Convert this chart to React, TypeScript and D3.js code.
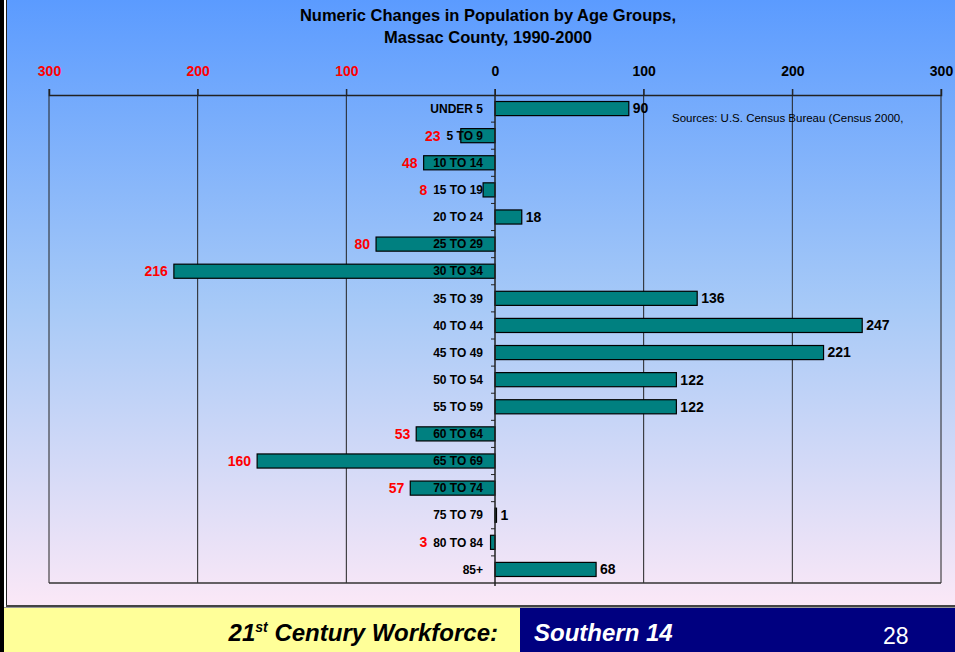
import React, { useRef, useEffect } from 'react';
import * as d3 from 'd3';

const ageGroups = [
  'UNDER 5', '5 TO 9', '10 TO 14', '15 TO 19', '20 TO 24', '25 TO 29',
  '30 TO 34', '35 TO 39', '40 TO 44', '45 TO 49', '50 TO 54', '55 TO 59',
  '60 TO 64', '65 TO 69', '70 TO 74', '75 TO 79', '80 TO 84', '85+',
];
const changes = [90, -23, -48, -8, 18, -80, -216, 136, 247, 221, 122, 122, -53, -160, -57, 1, -3, 68];
const xTicks = [-300, -200, -100, 0, 100, 200, 300];

const W = 955;
const H = 652;
const FONT = 'Arial, "Liberation Sans", sans-serif';

const App = () => {
  const ref = useRef<SVGSVGElement>(null);

  useEffect(() => {
    const svg = d3.select(ref.current);
    svg.selectAll('*').remove();

    const margin = { top: 95, right: 14, bottom: 69, left: 49 };
    const plotW = W - margin.left - margin.right;
    const plotH = H - margin.top - margin.bottom;

    // background gradient
    const defs = svg.append('defs');
    const grad = defs.append('linearGradient').attr('id', 'bg').attr('x1', 0).attr('y1', 0).attr('x2', 0).attr('y2', 1);
    grad.append('stop').attr('offset', '0%').attr('stop-color', '#5b9bff');
    grad.append('stop').attr('offset', '50%').attr('stop-color', '#a6c9f7');
    grad.append('stop').attr('offset', '100%').attr('stop-color', '#fbe8f7');
    svg.append('rect').attr('x', 0).attr('y', 0).attr('width', W).attr('height', 606).attr('fill', 'url(#bg)');

    // frame on the left and bottom of the slide
    svg.append('rect').attr('x', 0).attr('y', 0).attr('width', 4).attr('height', H).attr('fill', '#000');
    svg.append('rect').attr('x', 4).attr('y', 0).attr('width', 2).attr('height', 606).attr('fill', '#fff');
    svg.append('line').attr('x1', 6.5).attr('x2', 6.5).attr('y1', 0).attr('y2', 606).attr('stroke', '#222').attr('stroke-width', 1);

    // footer
    svg.append('rect').attr('x', 4).attr('y', 608).attr('width', 516).attr('height', 44).attr('fill', '#ffff99');
    svg.append('rect').attr('x', 520).attr('y', 608).attr('width', W - 520).attr('height', 44).attr('fill', '#000080');
    svg.append('rect').attr('x', 6).attr('y', 605).attr('width', W - 6).attr('height', 2).attr('fill', '#444');
    svg.append('rect').attr('x', 4).attr('y', 607).attr('width', W - 4).attr('height', 1).attr('fill', '#999');

    const ft = svg.append('text')
      .attr('x', 498).attr('y', 641).attr('text-anchor', 'end')
      .attr('font-family', FONT).attr('font-weight', 'bold').attr('font-style', 'italic')
      .attr('font-size', 24).attr('fill', '#000');
    ft.append('tspan').text('21');
    ft.append('tspan').attr('font-size', 14).attr('dy', -9).text('st');
    ft.append('tspan').attr('dy', 9).text(' Century Workforce:');

    svg.append('text')
      .attr('x', 534).attr('y', 641)
      .attr('font-family', FONT).attr('font-weight', 'bold').attr('font-style', 'italic')
      .attr('font-size', 24).attr('fill', '#fff').text('Southern 14');
    svg.append('text')
      .attr('x', 883).attr('y', 644)
      .attr('font-family', FONT).attr('font-size', 23).attr('fill', '#fff').text('28');

    // title
    const title = svg.append('text')
      .attr('text-anchor', 'middle').attr('font-family', FONT).attr('font-weight', 'bold')
      .attr('font-size', 16.5).attr('fill', '#000');
    title.append('tspan').attr('x', 488).attr('y', 21).text('Numeric Changes in Population by Age Groups,');
    title.append('tspan').attr('x', 488).attr('y', 43).text('Massac County, 1990-2000');

    const x = d3.scaleLinear().domain([-300, 300]).range([0, plotW]);
    const y = d3.scaleBand<string>().domain(ageGroups).range([0, plotH]).paddingInner(0.48).paddingOuter(0.24);

    const g = svg.append('g').attr('transform', `translate(${margin.left},${margin.top})`);

    // vertical gridlines + plot frame
    g.selectAll('line.grid')
      .data(xTicks.filter(d => d !== 0))
      .enter().append('line')
      .attr('class', 'grid')
      .attr('x1', d => x(d)).attr('x2', d => x(d))
      .attr('y1', -6).attr('y2', plotH)
      .attr('stroke', '#222').attr('stroke-width', 1);
    g.append('line').attr('x1', 0).attr('x2', plotW).attr('y1', plotH).attr('y2', plotH)
      .attr('stroke', '#333').attr('stroke-width', 1.5);

    // top axis
    const top = g.append('g')
      .call(d3.axisTop(x).tickValues(xTicks).tickSize(6).tickFormat(d => String(Math.abs(+d))));
    top.select('.domain').attr('stroke', '#222').attr('stroke-width', 1.5);
    top.selectAll('.tick line').attr('stroke', '#222');
    top.selectAll('.tick text')
      .attr('y', -19)
      .attr('font-family', FONT).attr('font-weight', 'bold').attr('font-size', 14)
      .attr('fill', d => (+d < 0 ? '#ff0000' : '#000'));

    // bars
    g.selectAll('rect.bar')
      .data(changes)
      .enter().append('rect')
      .attr('class', 'bar')
      .attr('x', d => x(Math.min(0, d)))
      .attr('y', (d, i) => y(ageGroups[i])!)
      .attr('width', d => Math.abs(x(d) - x(0)))
      .attr('height', y.bandwidth())
      .attr('fill', '#008080')
      .attr('stroke', '#000').attr('stroke-width', 1.2);

    // zero axis with category ticks
    const x0 = x(0);
    g.append('line').attr('x1', x0).attr('x2', x0).attr('y1', -6).attr('y2', plotH + 3)
      .attr('stroke', '#222').attr('stroke-width', 1.5);
    g.selectAll('line.cat')
      .data(d3.range(1, ageGroups.length))
      .enter().append('line')
      .attr('class', 'cat')
      .attr('x1', x0 - 4).attr('x2', x0)
      .attr('y1', i => i * y.step()).attr('y2', i => i * y.step())
      .attr('stroke', '#222');

    // category labels
    const cats = g.selectAll('text.cat')
      .data(ageGroups)
      .enter().append('text')
      .attr('class', 'cat')
      .attr('x', x0 - 12)
      .attr('y', d => y(d)! + y.bandwidth() / 2)
      .attr('dy', '0.35em')
      .attr('text-anchor', 'end')
      .attr('font-family', FONT).attr('font-weight', 'bold').attr('font-size', 12)
      .attr('fill', '#000')
      .text(d => d);

    const catLeft: number[] = [];
    cats.each(function (this: SVGTextElement) {
      catLeft.push(x0 - 12 - this.getComputedTextLength());
    });

    // value labels
    g.selectAll('text.val')
      .data(changes)
      .enter().append('text')
      .attr('class', 'val')
      .attr('x', (d, i) => (d >= 0 ? x(d) + 4 : Math.min(x(d), catLeft[i]) - 6))
      .attr('y', (d, i) => y(ageGroups[i])! + y.bandwidth() / 2)
      .attr('dy', '0.35em')
      .attr('text-anchor', d => (d >= 0 ? 'start' : 'end'))
      .attr('font-family', FONT).attr('font-weight', 'bold').attr('font-size', 14)
      .attr('fill', d => (d >= 0 ? '#000' : '#ff0000'))
      .text(d => String(Math.abs(d)));

    // source note
    svg.append('text')
      .attr('x', 672).attr('y', 122)
      .attr('font-family', FONT).attr('font-size', 11.5).attr('fill', '#000')
      .text('Sources: U.S. Census Bureau (Census 2000,');
  }, []);

  return (
    <svg ref={ref} width={W} height={H} style={{ position: 'absolute', left: 0, top: 0, display: 'block' }}></svg>
  );
};

export default App;
